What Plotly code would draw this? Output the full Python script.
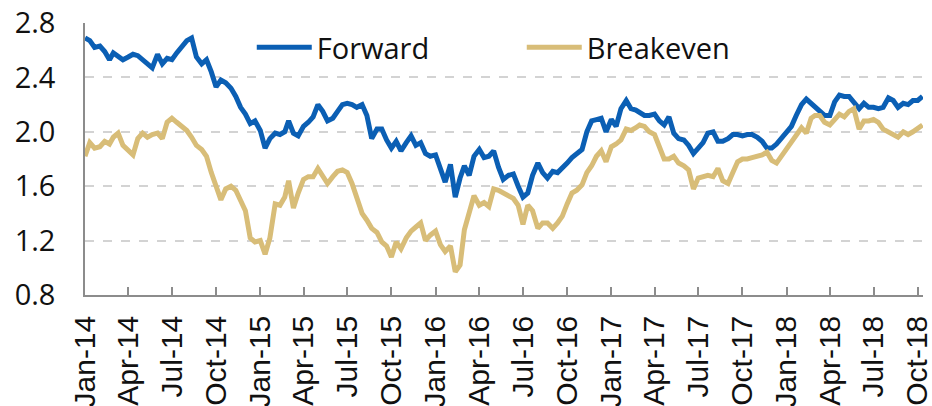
import plotly.graph_objects as go

# Observation dates: 1st, 11th, 21st of each month, Jan-2014 .. 11-Oct-2018
dates = [f"{y}-{m:02d}-{d:02d}" for y in range(2014, 2019) for m in range(1, 13) for d in (1, 11, 21)]
dates = [d for d in dates if d <= "2018-10-11"]

forward = [
    # 2014
    2.69, 2.67, 2.62, 2.63, 2.59, 2.53, 2.58, 2.56, 2.53, 2.55, 2.57, 2.56,
    2.53, 2.49, 2.47, 2.57, 2.50, 2.54, 2.53, 2.58, 2.62, 2.67, 2.69, 2.55,
    2.50, 2.53, 2.44, 2.33, 2.38, 2.36, 2.32, 2.26, 2.18, 2.13, 2.06, 2.08,
    # 2015
    2.01, 1.88, 1.95, 1.99, 1.98, 2.00, 2.08, 1.99, 1.97, 2.04, 2.07, 2.11,
    2.20, 2.15, 2.08, 2.10, 2.15, 2.20, 2.21, 2.20, 2.18, 2.20, 2.12, 1.95,
    2.02, 2.02, 1.94, 1.88, 1.93, 1.86, 1.92, 1.97, 1.90, 1.92, 1.84, 1.82,
    # 2016
    1.83, 1.73, 1.63, 1.76, 1.52, 1.66, 1.75, 1.68, 1.82, 1.87, 1.81, 1.82,
    1.86, 1.74, 1.65, 1.68, 1.69, 1.60, 1.52, 1.55, 1.68, 1.77, 1.70, 1.66,
    1.71, 1.70, 1.73, 1.77, 1.81, 1.84, 1.87, 2.00, 2.08, 2.09, 2.10, 2.00,
    # 2017
    2.09, 2.04, 2.17, 2.23, 2.17, 2.16, 2.14, 2.12, 2.12, 2.13, 2.08, 2.05,
    2.11, 1.99, 1.95, 1.94, 1.90, 1.84, 1.88, 1.92, 1.99, 2.00, 1.93, 1.93,
    1.95, 1.98, 1.98, 1.97, 1.98, 1.98, 1.96, 1.93, 1.88, 1.88, 1.91, 1.95,
    # 2018
    1.99, 2.04, 2.12, 2.20, 2.24, 2.21, 2.19, 2.15, 2.12, 2.12, 2.22, 2.27,
    2.26, 2.26, 2.21, 2.17, 2.21, 2.18, 2.18, 2.17, 2.18, 2.25, 2.23, 2.18,
    2.21, 2.20, 2.23, 2.23, 2.26,
]

breakeven = [
    # 2014
    1.82, 1.92, 1.88, 1.89, 1.93, 1.91, 1.96, 1.99, 1.90, 1.86, 1.83, 1.95,
    1.99, 1.96, 1.98, 1.99, 1.95, 2.07, 2.10, 2.07, 2.04, 2.01, 1.96, 1.90,
    1.87, 1.82, 1.70, 1.60, 1.50, 1.58, 1.60, 1.57, 1.50, 1.42, 1.22, 1.19,
    # 2015
    1.20, 1.10, 1.22, 1.47, 1.46, 1.52, 1.64, 1.44, 1.55, 1.65, 1.67, 1.67,
    1.73, 1.68, 1.62, 1.67, 1.71, 1.72, 1.70, 1.62, 1.50, 1.40, 1.35, 1.29,
    1.26, 1.19, 1.16, 1.08, 1.19, 1.14, 1.22, 1.27, 1.30, 1.33, 1.20, 1.24,
    # 2016
    1.27, 1.17, 1.12, 1.16, 0.97, 1.02, 1.28, 1.41, 1.53, 1.46, 1.48, 1.45,
    1.58, 1.57, 1.55, 1.52, 1.51, 1.46, 1.32, 1.46, 1.42, 1.29, 1.33, 1.33,
    1.29, 1.33, 1.38, 1.47, 1.55, 1.57, 1.61, 1.70, 1.75, 1.82, 1.86, 1.78,
    # 2017
    1.89, 1.91, 1.94, 2.02, 2.01, 2.03, 2.05, 2.04, 2.00, 1.98, 1.89, 1.80,
    1.80, 1.82, 1.77, 1.75, 1.72, 1.58, 1.66, 1.67, 1.68, 1.67, 1.73, 1.64,
    1.62, 1.70, 1.78, 1.80, 1.80, 1.81, 1.82, 1.83, 1.85, 1.79, 1.77, 1.82,
    # 2018
    1.88, 1.93, 1.97, 2.03, 1.99, 2.10, 2.12, 2.12, 2.07, 2.05, 2.09, 2.13,
    2.11, 2.15, 2.17, 2.02, 2.08, 2.08, 2.09, 2.07, 2.02, 2.00, 1.98, 1.96,
    2.00, 1.98, 2.00, 2.03, 2.05,
]

y_ticks = [0.8, 1.2, 1.6, 2.0, 2.4, 2.8]
y_tick_labels = ["0.8", "1.2", "1.6", "2.0", "2.4", "2.8"]

BLUE = "#0b5fb4"
TAN = "#d8bd78"

fig = go.Figure()
fig.add_trace(go.Scatter(x=dates, y=forward, name="Forward", mode="lines",
                         line=dict(color=BLUE, width=5)))
fig.add_trace(go.Scatter(x=dates, y=breakeven, name="Breakeven", mode="lines",
                         line=dict(color=TAN, width=5)))

fig.update_layout(
    width=932, height=406,
    margin=dict(l=85, r=9, t=23, b=111, autoexpand=False),
    paper_bgcolor="white", plot_bgcolor="white",
    font=dict(family="Open Sans", size=29, color="#111111"),
    legend=dict(orientation="h", x=0.199, y=0.91, xanchor="left", yanchor="middle",
                bgcolor="rgba(0,0,0,0)", font=dict(size=29),
                entrywidth=200, entrywidthmode="pixels", itemwidth=55),
    showlegend=True,
)
fig.update_xaxes(
    type="date", range=["2014-01-01", "2018-10-12"], automargin=False,
    tick0="2014-01-01", dtick="M3", tickformat="%b-%y",
    tickangle=-90, ticks="inside", ticklen=8, tickwidth=1.5, tickcolor="#8c8c8c",
    showline=True, linecolor="#8c8c8c", linewidth=1.5,
    showgrid=False, zeroline=False, ticklabeloverflow="allow",
    tickfont=dict(family="Liberation Sans", size=30, color="#111111"),
    ticklabelstandoff=7,
)
fig.update_yaxes(
    range=[0.8, 2.8], tickvals=y_ticks, ticktext=y_tick_labels, automargin=False,
    showline=True, linecolor="#8c8c8c", linewidth=1.5,
    showgrid=True, gridcolor="#d3d3d3", griddash="dash", gridwidth=1.5,
    zeroline=False, ticks="", ticklabelstandoff=22, ticklabeloverflow="allow",
    tickfont=dict(family="Open Sans", size=29, color="#111111"),
)

# remove the default 8px page margin so the figure fills the window exactly
fig.write_html("out.html", config={"displayModeBar": False},
               post_script="document.body.style.margin='0';")
